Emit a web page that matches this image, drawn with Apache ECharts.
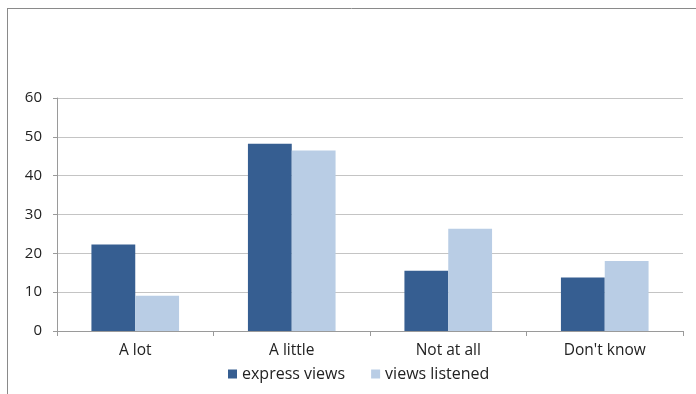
<!DOCTYPE html>
<html><head><meta charset="utf-8">
<script src="https://cdn.jsdelivr.net/npm/echarts@6/dist/echarts.min.js"></script>
<style>html,body{margin:0;padding:0;background:#fff}#c{width:696px;height:394px}</style>
</head><body><div id="c"></div>
<script>
const categories = ["A lot", "A little", "Not at all", "Don't know"];
const expressViews = [22.3, 48.2, 15.5, 13.8];
const viewsListened = [9.1, 46.5, 26.3, 18.0];
const seriesNames = ["express views", "views listened"];

const chart = echarts.init(document.getElementById('c'));
const font = '"Open Sans", sans-serif';
chart.setOption({
  animation: false,
  backgroundColor: '#fff',
  textStyle: {fontFamily: font},
  graphic: [
    {type: 'line', shape: {x1: 7.5, y1: 8, x2: 7.5, y2: 394}, style: {stroke: '#8a8a8a', lineWidth: 1}},
    {type: 'line', shape: {x1: 7, y1: 8.5, x2: 696, y2: 8.5}, style: {stroke: '#8a8a8a', lineWidth: 1}}
  ],
  legend: {
    bottom: 7, left: 223, itemWidth: 9, itemHeight: 9, itemGap: 26, itemTextGap: 4,
    icon: 'rect',
    textStyle: {fontSize: 16, color: '#222', fontFamily: font},
    data: seriesNames
  },
  grid: {left: 57, right: 13, top: 98, bottom: 63},
  xAxis: {
    type: 'category', data: categories,
    axisLine: {lineStyle: {color: '#9a9a9a'}},
    axisTick: {show: true, length: 5, lineStyle: {color: '#9a9a9a'}},
    axisLabel: {fontSize: 15.5, color: '#222', margin: 12, fontFamily: font}
  },
  yAxis: {
    type: 'value', min: 0, max: 60, interval: 10,
    axisLine: {show: true, lineStyle: {color: '#9a9a9a'}},
    axisTick: {show: true, length: 4, lineStyle: {color: '#9a9a9a'}},
    splitLine: {lineStyle: {color: '#c4c4c4'}},
    axisLabel: {fontSize: 15, color: '#222', margin: 15, fontFamily: font}
  },
  series: [
    {name: seriesNames[0], type: 'bar', data: expressViews, barGap: '0%', barCategoryGap: '44%',
     itemStyle: {color: '#365E91'}},
    {name: seriesNames[1], type: 'bar', data: viewsListened, barGap: '0%', barCategoryGap: '44%',
     itemStyle: {color: '#B9CDE5'}}
  ]
});
</script>
</body></html>
